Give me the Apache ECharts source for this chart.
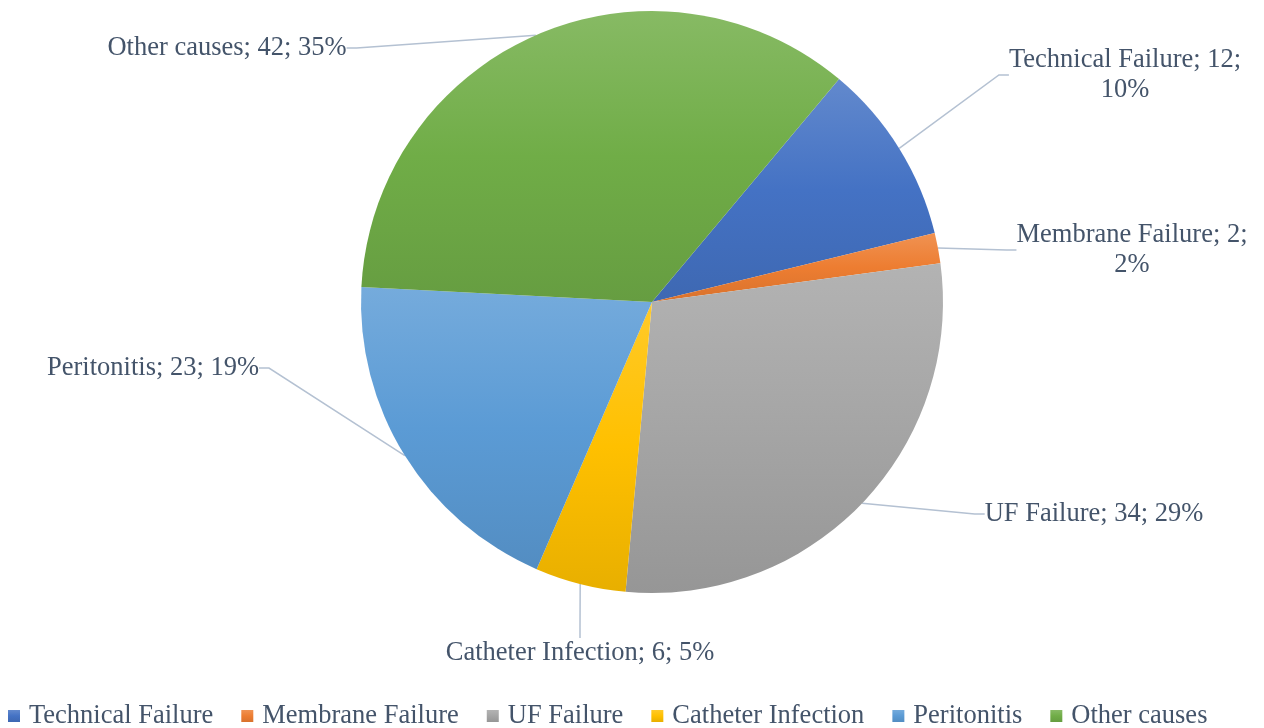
<!DOCTYPE html>
<html>
<head>
<meta charset="utf-8">
<script src="https://cdn.jsdelivr.net/npm/echarts@6/dist/echarts.min.js"></script>
<style>
  html, body { margin: 0; padding: 0; background: #ffffff; }
  #chart { width: 1264px; height: 728px; }
</style>
</head>
<body>
<div id="chart"></div>
<script>
// Causes of technique failure and their counts
const categories = ['Technical Failure', 'Membrane Failure', 'UF Failure', 'Catheter Infection', 'Peritonitis', 'Other causes'];
const counts = [12, 2, 34, 6, 23, 42];
const baseColors = ['#4472C4', '#ED7D31', '#A5A5A5', '#FFC000', '#5B9BD5', '#70AD47'];
// labels whose text wraps onto a second line before the percentage
const wrappedLabels = ['Technical Failure', 'Membrane Failure'];

const total = counts.reduce((a, b) => a + b, 0);

function mix(hex, target, t) {
  const n = parseInt(hex.slice(1), 16);
  const r = (n >> 16) & 255, g = (n >> 8) & 255, b = n & 255;
  const m = v => Math.round(v + (target - v) * t);
  return 'rgb(' + m(r) + ',' + m(g) + ',' + m(b) + ')';
}

// each slice shades from a light tint at its top to a deeper shade at its bottom
function sliceFill(hex) {
  return new echarts.graphic.LinearGradient(0, 0, 0, 1, [
    { offset: 0, color: mix(hex, 255, 0.16) },
    { offset: 0.5, color: hex },
    { offset: 1, color: mix(hex, 0, 0.09) }
  ]);
}

const seriesData = categories.map((name, i) => ({
  name: name,
  value: counts[i],
  itemStyle: { color: sliceFill(baseColors[i]) }
}));

// label anchor spots around the pie (centre of each text block)
const labelSpots = [
  { x: 1125, y: 75 },
  { x: 1132, y: 250 },
  { x: 1094, y: 514 },
  { x: 580, y: 653 },
  { x: 153, y: 368 },
  { x: 227, y: 48 }
];

const textColor = '#44546A';
const fontFamily = '"Liberation Serif", "Times New Roman", serif';
const fontSize = 26.5;

const chart = echarts.init(document.getElementById('chart'), null, { renderer: 'canvas' });

chart.setOption({
  animation: false,
  backgroundColor: '#ffffff',
  color: baseColors,
  legend: {
    top: 702,
    left: 8,
    padding: 0,
    itemWidth: 12,
    itemHeight: 12,
    itemGap: 28,
    icon: 'rect',
    textStyle: { color: textColor, fontFamily: fontFamily, fontSize: fontSize, lineHeight: 28, padding: [0, 0, 0, 4] },
    data: categories.map((name, i) => ({ name: name, itemStyle: { color: sliceFill(baseColors[i]) } }))
  },
  series: [{
    type: 'pie',
    center: [652, 302],
    radius: 291,
    startAngle: 50,
    clockwise: true,
    avoidLabelOverlap: false,
    data: seriesData,
    itemStyle: { borderWidth: 0 },
    label: {
      show: true,
      position: 'outside',
      color: textColor,
      fontFamily: fontFamily,
      fontSize: fontSize,
      lineHeight: 30,
      align: 'center',
      formatter: p => {
        const pct = Math.round(p.value / total * 100) + '%';
        const sep = wrappedLabels.indexOf(p.name) >= 0 ? '\n' : ' ';
        return p.name + '; ' + p.value + ';' + sep + pct;
      }
    },
    labelLine: {
      show: true,
      length: 20,
      length2: 10,
      lineStyle: { color: '#B4C1D2', width: 1.5 }
    },
    labelLayout: params => {
      const s = labelSpots[params.dataIndex];
      return { x: s.x, y: s.y, align: 'center', verticalAlign: 'middle' };
    },
    emphasis: { disabled: true }
  }]
});
</script>
</body>
</html>
